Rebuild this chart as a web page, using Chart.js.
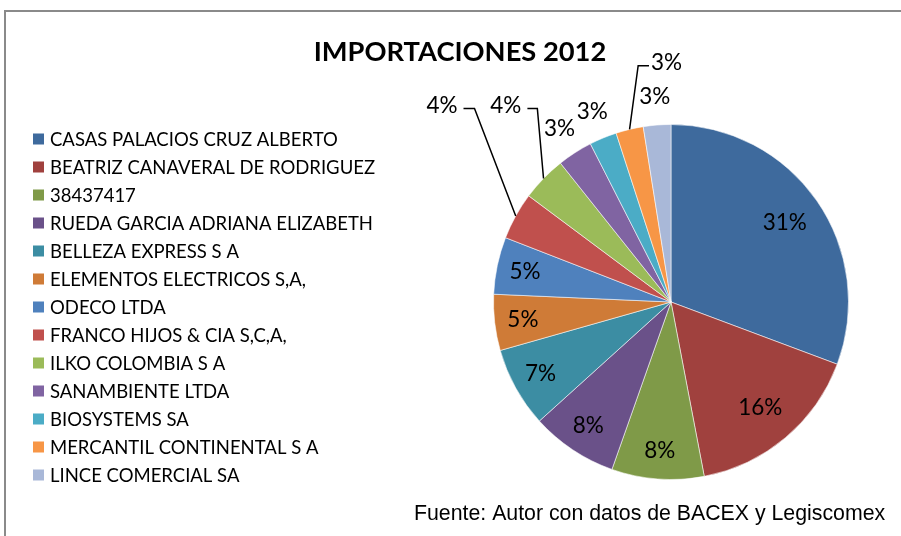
<!DOCTYPE html>
<html>
<head>
<meta charset="utf-8">
<script src="https://cdn.jsdelivr.net/npm/chart.js@4.4.0/dist/chart.umd.min.js"></script>
<style>
html, body { margin: 0; padding: 0; background: #fff; }
</style>
</head>
<body>
<canvas id="importChart" width="901" height="536"></canvas>
<script>
var empresas = [
    "CASAS PALACIOS CRUZ ALBERTO",
    "BEATRIZ CANAVERAL DE RODRIGUEZ",
    "38437417",
    "RUEDA GARCIA ADRIANA ELIZABETH",
    "BELLEZA EXPRESS S A",
    "ELEMENTOS ELECTRICOS S,A,",
    "ODECO LTDA",
    "FRANCO HIJOS & CIA S,C,A,",
    "ILKO COLOMBIA S A",
    "SANAMBIENTE LTDA",
    "BIOSYSTEMS SA",
    "MERCANTIL CONTINENTAL S A",
    "LINCE COMERCIAL SA"
];
// share of imports, %
var participacion = [30.7, 16.3, 8.4, 7.9, 7.3, 5.1, 5.2, 4.3, 4.1, 3.2, 2.5, 2.5, 2.5];
var colores = [
    "#3e6a9d", "#a0413e", "#7f9a48", "#6a5189", "#3c8da3", "#cf7b37",
    "#4f81bd", "#c0504d", "#9bbb59", "#8064a2", "#4bacc6", "#f79646", "#a9b8d8"
];
var titulo = "IMPORTACIONES 2012";
var fuente = "Fuente: Autor con datos de BACEX y Legiscomex";

var total = participacion.reduce(function (a, b) { return a + b; }, 0);

// font size that makes a text span a given width
function fitFont(ctx, text, width, weight, family) {
    ctx.font = weight + " 100px " + family;
    var size = 100 * width / ctx.measureText(text).width;
    return weight + " " + size.toFixed(1) + "px " + family;
}

// leader lines for the small slices (elbow and end, in radius units from centre)
var leaders = {
    7: { elbow: [-1.107, -1.090], end: [-1.169, -1.090], align: "right" },
    8: { elbow: [-0.753, -1.090], end: [-0.809, -1.090], align: "right" },
    11: { elbow: [-0.185, -1.331], end: [-0.124, -1.331], align: "left" }
};

var decor = {
    id: "decor",
    beforeDraw: function (chart) {
        var ctx = chart.ctx;
        ctx.save();
        ctx.fillStyle = "#fff";
        ctx.fillRect(0, 0, chart.width, chart.height);
        ctx.strokeStyle = "#8a8a8a";
        ctx.lineWidth = 2;
        ctx.beginPath();
        ctx.moveTo(5, chart.height);
        ctx.lineTo(5, 11);
        ctx.lineTo(chart.width, 11);
        ctx.stroke();
        ctx.restore();
    },
    afterDraw: function (chart) {
        var ctx = chart.ctx;
        ctx.save();
        ctx.fillStyle = "#000";
        ctx.textBaseline = "middle";

        // title
        ctx.font = fitFont(ctx, titulo, 293, "bold", "Lato");
        ctx.textAlign = "center";
        ctx.fillText(titulo, 460, 52);

        // legend
        ctx.textAlign = "left";
        empresas.forEach(function (name, i) {
            var y = 139 + i * 28;
            ctx.fillStyle = colores[i];
            ctx.fillRect(33, y - 5.5, 11, 11);
            ctx.fillStyle = "#000";
            ctx.font = "18.5px Lato";
            ctx.fillText(name, 50, y + 1);
        });

        // source
        ctx.font = fitFont(ctx, fuente, 472, "normal", "'Liberation Sans', Arial");
        ctx.fillText(fuente, 414, 514);

        // percentage labels
        var meta = chart.getDatasetMeta(0);
        meta.data.forEach(function (arc, i) {
            var p = arc.getProps(["x", "y", "startAngle", "endAngle", "outerRadius"]);
            var R = p.outerRadius;
            var mid = (p.startAngle + p.endAngle) / 2;
            var txt = Math.round(participacion[i] / total * 100) + "%";
            ctx.font = "22.5px Lato";
            ctx.fillStyle = "#000";
            var ld = leaders[i];
            if (ld) {
                var ex = p.x + Math.cos(mid) * R, ey = p.y + Math.sin(mid) * R;
                var bx = p.x + ld.elbow[0] * R, by = p.y + ld.elbow[1] * R;
                var fx = p.x + ld.end[0] * R, fy = p.y + ld.end[1] * R;
                ctx.strokeStyle = "#000";
                ctx.lineWidth = 1.5;
                ctx.beginPath();
                ctx.moveTo(ex, ey);
                ctx.lineTo(bx, by);
                ctx.lineTo(fx, fy);
                ctx.stroke();
                ctx.textAlign = ld.align;
                ctx.fillText(txt, ld.align === "right" ? fx - 6 : fx + 2, fy - 3);
            } else {
                var k = participacion[i] >= 10 ? 0.78 : (participacion[i] >= 5 ? 0.84 : 1.16);
                ctx.textAlign = "center";
                ctx.fillText(txt, p.x + Math.cos(mid) * R * k, p.y + Math.sin(mid) * R * k);
            }
        });
        ctx.restore();
    }
};

var ctx = document.getElementById("importChart");

var importChart = new Chart(ctx, {
    type: "pie",
    data: {
        labels: empresas,
        datasets: [{
            data: participacion,
            backgroundColor: colores,
            borderColor: "rgba(255,255,255,0.55)",
            borderWidth: 1,
            hoverOffset: 0
        }]
    },
    options: {
        responsive: false,
        animation: false,
        events: [],
        layout: { padding: { left: 493, right: 52, top: 124, bottom: 56 } },
        plugins: {
            legend: { display: false },
            tooltip: { enabled: false },
            title: { display: false }
        }
    },
    plugins: [decor]
});
</script>
</body>
</html>
